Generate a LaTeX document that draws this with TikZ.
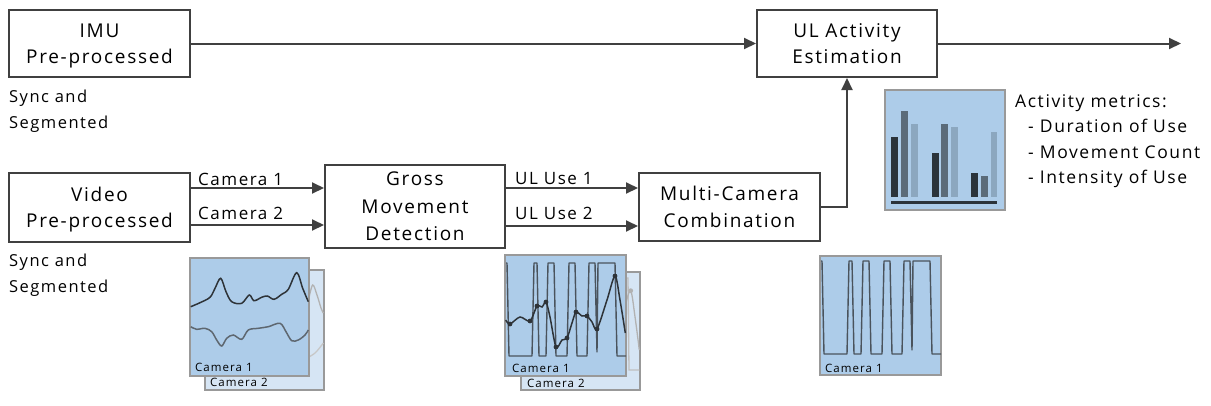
\documentclass[tikz,border=0pt]{standalone}
\usepackage{fontspec}
\setmainfont{Open Sans}[LetterSpace=9]
\usetikzlibrary{arrows.meta}
\definecolor{linec}{HTML}{404040}
\definecolor{plotfg}{HTML}{ADCCE9}
\definecolor{plotbg}{HTML}{D6E5F4}
\definecolor{plotedge}{HTML}{999999}
\definecolor{sigdark}{HTML}{2E3338}
\definecolor{siggray}{HTML}{5E6770}
\definecolor{sqc}{HTML}{4A535C}
\definecolor{barA}{HTML}{2B333A}
\definecolor{barB}{HTML}{5B6B79}
\definecolor{barC}{HTML}{8CA7BF}
\newcommand\ulsqwave{(821,261) -- (822,261) -- (824,354) -- (847,354) -- (849,261) -- (852,261) -- (854,354) -- (861,354) -- (863,261) -- (869,261) -- (871,354) -- (882,354) -- (884,261) -- (890,261) -- (892,354) -- (902,354) -- (904,261) -- (910,261) -- (912,350) -- (913,261) -- (930,261) -- (932,354) -- (941,354)}
\begin{document}
\begin{tikzpicture}[x=1pt,y=-1pt,
  box/.style={draw=linec, line width=2pt, fill=white, align=center, inner sep=0pt,
    text depth=0pt, font=\fontsize{19}{26.5}\selectfont},
  arr/.style={draw=linec, line width=2pt, -{Triangle[length=12pt,width=11pt]}},
  side/.style={font=\fontsize{16.5}{25.5}\selectfont, align=left, inner sep=0pt},
  lbl/.style={font=\fontsize{17}{20}\selectfont, inner sep=0pt, anchor=base west},
  met/.style={font=\fontsize{17.5}{20}\selectfont, inner sep=0pt, anchor=base west},
  small/.style={font=\fontsize{11.5}{13}\selectfont, inner sep=0pt, anchor=base west, text=black},
  fg/.style={fill=plotfg, draw=plotedge, line width=1.4pt},
  bg/.style={fill=plotbg, draw=plotedge, line width=1.4pt},
]
\useasboundingbox (0,0) rectangle (1211,405);

% boxes
\node[box, minimum width=181pt, minimum height=67pt] (imu) at (99.5,43.5) {IMU\\Pre-processed};
\node[box, minimum width=181pt, minimum height=69pt] (video) at (99.5,207.5) {Video\\Pre-processed};
\node[box, minimum width=180pt, minimum height=83pt, font=\fontsize{19}{27.5}\selectfont] (gross) at (415,206.5) {Gross\\Movement\\Detection};
\node[box, minimum width=181pt, minimum height=68pt] (multi) at (729.5,207) {Multi-Camera\\Combination};
\node[box, minimum width=180pt, minimum height=67pt] (ulact) at (847,43.5) {UL Activity\\Estimation};

\coordinate (out) at (1181,43.5);
\coordinate (c1) at (0,188);
\coordinate (c2) at (0,225);
\coordinate (u1) at (0,188);
\coordinate (u2) at (0,226);

% connectors
\draw[arr] (imu) -- (ulact);
\draw[arr] (ulact) -- (out);
\draw[arr] (video.east |- c1) -- (gross.west |- c1);
\draw[arr] (video.east |- c2) -- (gross.west |- c2);
\draw[arr] (gross.east |- u1) -- (multi.west |- u1);
\draw[arr] (gross.east |- u2) -- (multi.west |- u2);
\draw[arr] (multi.east) -| (ulact.south);

% labels
\node[lbl] (lc1) at (198,185) {Camera 1};
\node[lbl] (lc2) at (198,219) {Camera 2};
\node[lbl] (lu1) at (515,184) {UL Use 1};
\node[lbl] (lu2) at (515,219) {UL Use 2};
\node[side, anchor=base west] (s1) at (9,128) {Sync and\\Segmented};
\node[side, anchor=base west] (s2) at (9,292) {Sync and\\Segmented};
\node[met] (am0) at (1015,107) {Activity metrics:};
\node[met] (am1) at (1028,132.5) {- Duration of Use};
\node[met] (am2) at (1028,158) {- Movement Count};
\node[met] (am3) at (1028,183.5) {- Intensity of Use};

% plot 1 (raw signals)
\draw[bg] (205,270) rectangle (324,390);
\draw[line width=1.3pt, color=black!30] plot[smooth, tension=0.6] coordinates {(309,298) (312.7,285) (317,295) (321,308) (323.3,313)};
\draw[line width=1.3pt, color=black!22] plot[smooth, tension=0.6] coordinates {(309,357) (315,353) (319.5,348) (323.3,343)};
\draw[fg] (190,258) rectangle (309,376);
\draw[line width=1.5pt, color=sigdark] plot[smooth, tension=0.55] coordinates {(190.7,306.7) (200,302.7) (210,297.3) (215,288.3) (220.7,278.3) (226,291.7) (231.7,301.7) (241.7,303.3) (249.3,295) (254,300.7) (261.7,297.3) (267.3,296) (274,299.3) (281.7,294.3) (288.3,289.3) (296.7,272.7) (302.7,288.3) (308.3,301.7)};
\draw[line width=1.5pt, color=siggray] plot[smooth, tension=0.55] coordinates {(190.7,326.7) (196.7,329.3) (205,328.3) (211.7,331.7) (216.7,340) (221.7,346) (226.7,338.3) (233.3,335) (241.7,339.3) (248.3,330) (258.3,328.3) (268.3,326.7) (280,323.3) (286,331.7) (291.7,340.7) (298.3,340) (305,335) (308.3,330)};
\node[small] (p1c1) at (195,371) {Camera 1};
\node[small] (p1c2) at (210,386) {Camera 2};

% plot 2 (gross movement)
\draw[bg] (521,272) rectangle (640,390);
\draw[line width=1.3pt, color=black!25] (626,278) -- (628,278) -- (629,370) -- (639.3,370);
\draw[line width=1.3pt, color=black!30] plot[smooth, tension=0.6] coordinates {(626,303) (630.7,290.7) (635,316.7) (639.3,350)};
\fill[black!30] (630.7,290.7) circle (2.4pt);
\draw[fg] (505,255) rectangle (626,376);
\begin{scope}[shift={(-315,2)}]
\draw[line width=1.4pt, color=sqc, line join=round] \ulsqwave;
\end{scope}
\draw[line width=1.5pt, color=sigdark] plot[smooth, tension=0.5] coordinates {(505.7,320) (510,324) (520,317) (530,321) (537,306) (542,307) (546,302) (550,317) (556,347) (562,340) (567,338) (572,323) (576,312) (582,316) (587,316) (592,322) (597,329) (607,300) (615,276) (620,300) (625.3,333)};
\foreach \p in {(510,324),(530,321),(537,306),(546,302),(556,347),(567,338),(576,312),(587,316),(597,329),(615,276)}
  \fill[sigdark] \p circle (2.4pt);
\node[small] (p2c1) at (512,372) {Camera 1};
\node[small] (p2c2) at (527,387) {Camera 2};

% plot 3 (combined)
\draw[fg] (820,256) rectangle (941,375);
\draw[line width=1.4pt, color=sqc, line join=round] \ulsqwave;
\node[small] (p3c1) at (825,372) {Camera 1};

% bar chart
\draw[fg] (885,90) rectangle (1005,210);
\fill[barA] (891,137) rectangle (898,197);
\fill[barB] (901,111) rectangle (908,197);
\fill[barC] (911,124) rectangle (918,197);
\fill[barA] (932,153) rectangle (939,197);
\fill[barB] (941,124) rectangle (948,197);
\fill[barC] (951,127) rectangle (958,197);
\fill[barA] (971,173) rectangle (978,197);
\fill[barB] (981,176) rectangle (988,197);
\fill[barC] (991,132) rectangle (997,197);
\fill[barA] (891,201) rectangle (997,204);
\end{tikzpicture}
\end{document}
